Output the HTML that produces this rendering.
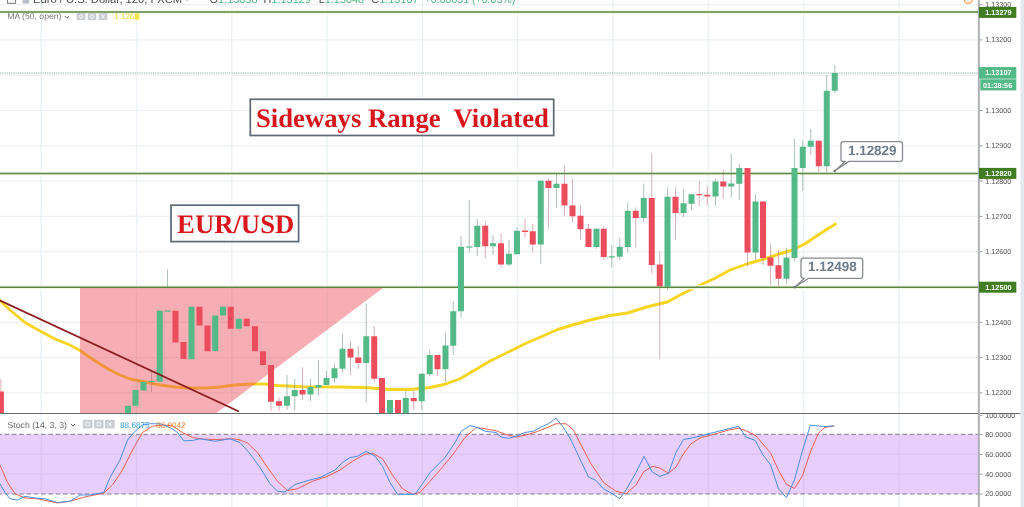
<!DOCTYPE html>
<html lang="en"><head><meta charset="utf-8"><title>EUR/USD chart</title>
<style>html,body{margin:0;padding:0;background:#fff;overflow:hidden}svg{display:block}text{font-family:"Liberation Sans",sans-serif;text-rendering:geometricPrecision}.se{font-family:"Liberation Serif",serif;font-weight:bold;fill:#d9161c}</style></head><body>
<svg width="1024" height="507" viewBox="0 0 1024 507">
<rect width="1024" height="507" fill="#fff"/>
<rect x="1020.5" y="0" width="4" height="507" fill="#e4e8ef"/>
<g stroke="#eaf0f3" stroke-width="1.3">
<line x1="41.2" y1="0" x2="41.2" y2="507"/>
<line x1="136.5" y1="0" x2="136.5" y2="507"/>
<line x1="231.8" y1="0" x2="231.8" y2="507"/>
<line x1="327.1" y1="0" x2="327.1" y2="507"/>
<line x1="422.4" y1="0" x2="422.4" y2="507"/>
<line x1="517.7" y1="0" x2="517.7" y2="507"/>
<line x1="613.0" y1="0" x2="613.0" y2="507"/>
<line x1="708.3" y1="0" x2="708.3" y2="507"/>
<line x1="803.6" y1="0" x2="803.6" y2="507"/>
<line x1="898.9" y1="0" x2="898.9" y2="507"/>
</g><g stroke="#eef0f2" stroke-width="1.2">
<line x1="0" y1="4.6" x2="979" y2="4.6"/>
<line x1="0" y1="39.9" x2="979" y2="39.9"/>
<line x1="0" y1="75.2" x2="979" y2="75.2"/>
<line x1="0" y1="110.5" x2="979" y2="110.5"/>
<line x1="0" y1="145.8" x2="979" y2="145.8"/>
<line x1="0" y1="181.1" x2="979" y2="181.1"/>
<line x1="0" y1="216.4" x2="979" y2="216.4"/>
<line x1="0" y1="251.7" x2="979" y2="251.7"/>
<line x1="0" y1="287.0" x2="979" y2="287.0"/>
<line x1="0" y1="322.3" x2="979" y2="322.3"/>
<line x1="0" y1="357.6" x2="979" y2="357.6"/>
<line x1="0" y1="392.9" x2="979" y2="392.9"/>
<line x1="0" y1="454.2" x2="979" y2="454.2"/>
<line x1="0" y1="474.2" x2="979" y2="474.2"/>
</g>
<rect x="0" y="434.3" width="979" height="59.7" fill="#b868f5" fill-opacity="0.32"/>
<g stroke="#857a8c" stroke-width="1" stroke-dasharray="4.6,2.7" stroke-dashoffset="2.7"><line x1="0" y1="434.3" x2="979" y2="434.3"/><line x1="0" y1="494" x2="979" y2="494"/></g>
<polyline fill="none" stroke="#f6d422" stroke-width="2.9" stroke-linejoin="round" stroke-linecap="round" points="0,300.5 10,310 25,322.5 40,331 55,339 70,345 80,350.5 90,357.5 100,364 110,370 120,375 130,379 140,381 150,383 160,385 175,387 190,388 205,388 220,387 235,385 250,384 265,384 277.5,385.5 302.5,386.75 340,387 365,387.5 390,389.5 410,389.5 430,387.5 445,384.25 460,378.75 475,370 490,361 510,351.25 525,343.75 542.5,336.25 557.5,329.5 572.5,325 590,320 610,315.5 627.5,313 645,307.5 657.5,304.25 667.5,302 680,295 697.5,286.25 715.5,278 730,270 747.5,263.75 762.5,259.5 780,253.75 792.5,250 805,243.75 820,233.75 835.5,224"/>
<g stroke="#f2f8ec" stroke-width="4"><line x1="0" y1="12" x2="979" y2="12"/><line x1="0" y1="173.6" x2="979" y2="173.6"/><line x1="0" y1="287.3" x2="979" y2="287.3"/></g>
<g stroke="#7d9a8c" stroke-opacity="0.62" stroke-width="1">
<line x1="151.5" y1="370" x2="151.5" y2="392"/>
<line x1="167.5" y1="269.6" x2="167.5" y2="287.5"/>
<line x1="287" y1="375" x2="287" y2="410"/>
<line x1="294.75" y1="378.75" x2="294.75" y2="410"/>
<line x1="310.5" y1="378.75" x2="310.5" y2="401"/>
<line x1="318.5" y1="360" x2="318.5" y2="395"/>
<line x1="326.5" y1="371" x2="326.5" y2="385"/>
<line x1="334.5" y1="363.75" x2="334.5" y2="382.5"/>
<line x1="342.5" y1="333.75" x2="342.5" y2="372.5"/>
<line x1="366.25" y1="303.75" x2="366.25" y2="402.5"/>
<line x1="405.75" y1="391" x2="405.75" y2="413"/>
<line x1="421.75" y1="373" x2="421.75" y2="410"/>
<line x1="429.75" y1="349.5" x2="429.75" y2="376"/>
<line x1="445.5" y1="332.5" x2="445.5" y2="382.5"/>
<line x1="453.25" y1="301" x2="453.25" y2="355"/>
<line x1="461" y1="236" x2="461" y2="317.5"/>
<line x1="469.25" y1="200" x2="469.25" y2="252.5"/>
<line x1="477.25" y1="218.75" x2="477.25" y2="256"/>
<line x1="493" y1="235" x2="493" y2="255"/>
<line x1="509" y1="240" x2="509" y2="266"/>
<line x1="517" y1="227.5" x2="517" y2="254"/>
<line x1="540.75" y1="180" x2="540.75" y2="263.75"/>
<line x1="556.5" y1="173.75" x2="556.5" y2="207.5"/>
<line x1="596.5" y1="228" x2="596.5" y2="248.75"/>
<line x1="611.75" y1="245" x2="611.75" y2="267.5"/>
<line x1="619.75" y1="237.5" x2="619.75" y2="260"/>
<line x1="627.75" y1="202.5" x2="627.75" y2="252.5"/>
<line x1="643.75" y1="183.75" x2="643.75" y2="222.5"/>
<line x1="667.5" y1="187.5" x2="667.5" y2="290"/>
<line x1="683.5" y1="188.75" x2="683.5" y2="217"/>
<line x1="691.5" y1="194" x2="691.5" y2="210"/>
<line x1="715.5" y1="178.75" x2="715.5" y2="206.25"/>
<line x1="731.25" y1="153.75" x2="731.25" y2="197.5"/>
<line x1="739.25" y1="163.75" x2="739.25" y2="200"/>
<line x1="755.5" y1="193.75" x2="755.5" y2="260"/>
<line x1="786.5" y1="247.5" x2="786.5" y2="283.75"/>
<line x1="794.5" y1="138.75" x2="794.5" y2="260.5"/>
<line x1="802.75" y1="141" x2="802.75" y2="191"/>
<line x1="810.75" y1="128.75" x2="810.75" y2="155"/>
<line x1="826.75" y1="75" x2="826.75" y2="172.5"/>
<line x1="834.75" y1="65" x2="834.75" y2="92.5"/>
</g>
<g stroke="#c27f8a" stroke-opacity="0.62" stroke-width="1">
<line x1="0.9" y1="379" x2="0.9" y2="413"/>
<line x1="271" y1="365" x2="271" y2="411"/>
<line x1="279" y1="397.5" x2="279" y2="411"/>
<line x1="302.5" y1="367.5" x2="302.5" y2="400"/>
<line x1="350.5" y1="341" x2="350.5" y2="375"/>
<line x1="358.25" y1="346" x2="358.25" y2="369"/>
<line x1="374.25" y1="326" x2="374.25" y2="382.5"/>
<line x1="413.75" y1="391" x2="413.75" y2="410"/>
<line x1="437.5" y1="355" x2="437.5" y2="376"/>
<line x1="485.25" y1="221" x2="485.25" y2="258.75"/>
<line x1="501" y1="233.75" x2="501" y2="267.5"/>
<line x1="525" y1="218.75" x2="525" y2="237.5"/>
<line x1="532.75" y1="223.75" x2="532.75" y2="252.5"/>
<line x1="548.5" y1="178.75" x2="548.5" y2="228.75"/>
<line x1="564.5" y1="166" x2="564.5" y2="216"/>
<line x1="572.5" y1="178.75" x2="572.5" y2="222.5"/>
<line x1="580.5" y1="205" x2="580.5" y2="240"/>
<line x1="588.5" y1="223.75" x2="588.5" y2="247"/>
<line x1="603.75" y1="226" x2="603.75" y2="260"/>
<line x1="635.75" y1="207.5" x2="635.75" y2="247.5"/>
<line x1="651.75" y1="153" x2="651.75" y2="273.75"/>
<line x1="659.75" y1="251.25" x2="659.75" y2="358.75"/>
<line x1="675.5" y1="187.5" x2="675.5" y2="240"/>
<line x1="699.25" y1="181.25" x2="699.25" y2="206.25"/>
<line x1="707.25" y1="186.25" x2="707.25" y2="205"/>
<line x1="723.25" y1="170" x2="723.25" y2="198.75"/>
<line x1="747.5" y1="168" x2="747.5" y2="266.25"/>
<line x1="763" y1="201" x2="763" y2="265"/>
<line x1="770.5" y1="243.75" x2="770.5" y2="285"/>
<line x1="778.5" y1="250" x2="778.5" y2="286.25"/>
<line x1="818.75" y1="140" x2="818.75" y2="172.5"/>
</g>
<polygon points="80,288 383,288 216.5,413 80,413" fill="#eb4d5c" fill-opacity="0.46"/>
<line x1="0" y1="73" x2="979" y2="73" stroke="#aecbc4" stroke-width="1.5" stroke-dasharray="1,0.8"/>
<g stroke="#5a863e" stroke-width="1.5"><line x1="0" y1="12" x2="979" y2="12"/><line x1="0" y1="173.6" x2="979" y2="173.6"/><line x1="0" y1="287.3" x2="979" y2="287.3"/></g>
<g>
<rect x="-2.1" y="391.5" width="6" height="21.5" fill="#eb4d5c"/>
<rect x="125" y="405.75" width="6" height="7.25" fill="#53b987"/>
<rect x="132.5" y="390" width="6" height="15.75" fill="#53b987"/>
<rect x="140.5" y="382" width="6" height="8.5" fill="#53b987"/>
<rect x="148.5" y="381" width="6" height="1" fill="#53b987"/>
<rect x="156.75" y="310.75" width="6" height="71" fill="#53b987"/>
<rect x="164.5" y="310.5" width="6" height="1.2" fill="#53b987"/>
<rect x="172.5" y="310.75" width="6" height="31.75" fill="#eb4d5c"/>
<rect x="180.5" y="342" width="6" height="17" fill="#eb4d5c"/>
<rect x="188.5" y="306.75" width="6" height="52.5" fill="#53b987"/>
<rect x="196.5" y="306.75" width="6" height="18.75" fill="#eb4d5c"/>
<rect x="204.5" y="325.5" width="6" height="25.75" fill="#eb4d5c"/>
<rect x="212.25" y="315.5" width="6" height="35.5" fill="#53b987"/>
<rect x="220" y="306.75" width="6" height="8.75" fill="#53b987"/>
<rect x="227.75" y="306.75" width="6" height="22" fill="#eb4d5c"/>
<rect x="235.75" y="318.75" width="6" height="10" fill="#53b987"/>
<rect x="243.75" y="318.75" width="6" height="7.5" fill="#eb4d5c"/>
<rect x="252" y="326.25" width="6" height="25" fill="#eb4d5c"/>
<rect x="260" y="351.25" width="6" height="13.75" fill="#eb4d5c"/>
<rect x="268" y="365" width="6" height="36.75" fill="#eb4d5c"/>
<rect x="276" y="401.25" width="6" height="4.5" fill="#eb4d5c"/>
<rect x="284" y="396.25" width="6" height="9.5" fill="#53b987"/>
<rect x="291.75" y="390" width="6" height="6.25" fill="#53b987"/>
<rect x="299.5" y="390" width="6" height="4.5" fill="#eb4d5c"/>
<rect x="307.5" y="387" width="6" height="7.5" fill="#53b987"/>
<rect x="315.5" y="385" width="6" height="2.5" fill="#53b987"/>
<rect x="323.5" y="378" width="6" height="7" fill="#53b987"/>
<rect x="331.5" y="368.25" width="6" height="10" fill="#53b987"/>
<rect x="339.5" y="348.75" width="6" height="20" fill="#53b987"/>
<rect x="347.5" y="348.75" width="6" height="8.75" fill="#eb4d5c"/>
<rect x="355.25" y="357.5" width="6" height="5.5" fill="#eb4d5c"/>
<rect x="363.25" y="336.25" width="6" height="26.75" fill="#53b987"/>
<rect x="371.25" y="336.25" width="6" height="42.5" fill="#eb4d5c"/>
<rect x="379" y="378" width="6" height="35" fill="#eb4d5c"/>
<rect x="387" y="400" width="6" height="13" fill="#53b987"/>
<rect x="395" y="400" width="6" height="13" fill="#eb4d5c"/>
<rect x="402.75" y="398" width="6" height="15" fill="#53b987"/>
<rect x="410.75" y="398" width="6" height="3.25" fill="#eb4d5c"/>
<rect x="418.75" y="373.75" width="6" height="27.5" fill="#53b987"/>
<rect x="426.75" y="355" width="6" height="19.25" fill="#53b987"/>
<rect x="434.5" y="355" width="6" height="14.25" fill="#eb4d5c"/>
<rect x="442.5" y="345.5" width="6" height="23.75" fill="#53b987"/>
<rect x="450.25" y="311.25" width="6" height="34.5" fill="#53b987"/>
<rect x="458" y="246.75" width="6" height="64.5" fill="#53b987"/>
<rect x="466.25" y="246.4" width="6" height="1.2" fill="#53b987"/>
<rect x="474.25" y="225.75" width="6" height="21.25" fill="#53b987"/>
<rect x="482.25" y="225.75" width="6" height="20.5" fill="#eb4d5c"/>
<rect x="490" y="243.25" width="6" height="3" fill="#53b987"/>
<rect x="498" y="243.25" width="6" height="21.25" fill="#eb4d5c"/>
<rect x="506" y="253.75" width="6" height="10.75" fill="#53b987"/>
<rect x="514" y="230.75" width="6" height="23.5" fill="#53b987"/>
<rect x="522" y="230.5" width="6" height="1.5" fill="#eb4d5c"/>
<rect x="529.75" y="231.25" width="6" height="13.25" fill="#eb4d5c"/>
<rect x="537.75" y="180.75" width="6" height="63.75" fill="#53b987"/>
<rect x="545.5" y="180.75" width="6" height="7.25" fill="#eb4d5c"/>
<rect x="553.5" y="183.75" width="6" height="4.25" fill="#53b987"/>
<rect x="561.5" y="183.75" width="6" height="21.75" fill="#eb4d5c"/>
<rect x="569.5" y="205.5" width="6" height="10.75" fill="#eb4d5c"/>
<rect x="577.5" y="215.75" width="6" height="13.5" fill="#eb4d5c"/>
<rect x="585.5" y="228.75" width="6" height="18.25" fill="#eb4d5c"/>
<rect x="593.5" y="228.75" width="6" height="18.25" fill="#53b987"/>
<rect x="600.75" y="228.75" width="6" height="28.25" fill="#eb4d5c"/>
<rect x="608.75" y="256.25" width="6" height="1.25" fill="#53b987"/>
<rect x="616.75" y="246.75" width="6" height="10" fill="#53b987"/>
<rect x="624.75" y="210.75" width="6" height="36.25" fill="#53b987"/>
<rect x="632.75" y="210.75" width="6" height="7.25" fill="#eb4d5c"/>
<rect x="640.75" y="198" width="6" height="20" fill="#53b987"/>
<rect x="648.75" y="198" width="6" height="67" fill="#eb4d5c"/>
<rect x="656.75" y="264.5" width="6" height="21.75" fill="#eb4d5c"/>
<rect x="664.5" y="196.75" width="6" height="90" fill="#53b987"/>
<rect x="672.5" y="196.75" width="6" height="16.25" fill="#eb4d5c"/>
<rect x="680.5" y="203.25" width="6" height="9.75" fill="#53b987"/>
<rect x="688.5" y="194.25" width="6" height="9.5" fill="#53b987"/>
<rect x="696.25" y="194" width="6" height="1.25" fill="#eb4d5c"/>
<rect x="704.25" y="194.75" width="6" height="1.75" fill="#eb4d5c"/>
<rect x="712.5" y="181.5" width="6" height="15" fill="#53b987"/>
<rect x="720.25" y="181.5" width="6" height="5" fill="#eb4d5c"/>
<rect x="728.25" y="183.5" width="6" height="3" fill="#53b987"/>
<rect x="736.25" y="168" width="6" height="15.75" fill="#53b987"/>
<rect x="744.5" y="168" width="6" height="84.5" fill="#eb4d5c"/>
<rect x="752.5" y="201.5" width="6" height="51" fill="#53b987"/>
<rect x="760" y="201.5" width="6" height="56.5" fill="#eb4d5c"/>
<rect x="767.5" y="257.5" width="6" height="8.25" fill="#eb4d5c"/>
<rect x="775.5" y="265.25" width="6" height="13.5" fill="#eb4d5c"/>
<rect x="783.5" y="257.5" width="6" height="21.25" fill="#53b987"/>
<rect x="791.5" y="168" width="6" height="90" fill="#53b987"/>
<rect x="799.75" y="146.75" width="6" height="21.25" fill="#53b987"/>
<rect x="807.75" y="140.75" width="6" height="6" fill="#53b987"/>
<rect x="815.75" y="140.75" width="6" height="25.5" fill="#eb4d5c"/>
<rect x="823.75" y="90.75" width="6" height="75.5" fill="#53b987"/>
<rect x="831.75" y="73" width="6" height="17.75" fill="#53b987"/>
</g>
<line x1="-4" y1="298.6" x2="239" y2="411.5" stroke="#8c1c1f" stroke-width="1.9"/>
<rect x="0" y="413" width="1020.5" height="1" fill="#6c6c6c"/>
<polyline fill="none" stroke="#e8604c" stroke-width="1" stroke-linejoin="round" points="0,465 7.5,482.5 15,493.75 25,498 37.5,498.75 57.5,503 70,501.25 82.5,497.5 103.75,493 112.5,485 122.5,470 132.5,450 142.5,432.5 152.5,426.25 162.5,425 172.5,425.75 182.5,432.5 192.5,437.5 205,439.25 217.5,439.5 232.5,438.75 240,440 247.5,443 257.5,452.5 267.5,467.5 277.5,481.25 287.5,490.5 297.5,488.75 312.5,481.25 327.5,476.25 340,470 352.5,461.25 365,454.25 372.5,453.25 382.5,458.75 392.5,475 402.5,488.75 412.5,494.25 420,492.5 430,481.25 440,470 452.5,455 465,437.5 476.25,427.5 485,428.75 496,430.75 506,434.5 516,437 526,435 536,432 546,428 556,423.75 566,423.75 573.5,430 581,445 591,463.75 603.5,482.5 616,491.25 626,493.75 636,485 643.5,472 652.25,466.25 659.75,468 668.5,473.25 676,467 683.5,453.75 691,443.75 701,437.5 713.5,434.5 728.5,430 738.5,428.25 746,430.75 752,433.7 756,435.9 770.6,453.1 778.6,470.4 786.5,484.5 794.5,488.4 802.5,475.7 810.4,451.8 818.4,433.2 825,427.4 834.3,425.8"/>
<polyline fill="none" stroke="#4a8fe0" stroke-width="1" stroke-linejoin="round" points="0,483.75 5,492.5 10,498.75 17.5,500 25,496.25 35,498 45,498.75 57.5,502.5 70,501.25 80,495 90,495 103.75,492.5 110,477.5 120,460 127.5,440 135,431.25 142.5,425 150,423.75 160,423.75 170,427.5 177.5,432.5 183.75,440.75 192.5,440.5 200,438.75 215,441.25 230,438.75 240,442.5 250,453.75 260,467.5 270,483.75 277.5,491.25 285,492 295,484.5 310,480 320,477.5 335,470 342.5,462.5 350,457.5 357.5,456.25 366.25,451.25 375,456.25 382.5,466.25 390,482.5 397.5,494.25 415,494.25 422.5,483.75 430,472.5 445,457.5 455,442.5 461.25,431.25 470,425.5 477.5,427.5 485,431.25 496,432.5 501,437 508.5,438.25 516,436.25 524.75,432.5 533.5,431.25 541,427 548.5,423.75 556,418.25 563.5,427.5 571,440 581,461.25 588.5,477 596,480.5 603.5,488.75 612.25,493.75 619.75,498.75 626,490 636,472.5 644,456.25 652.25,472 659.75,476.25 668.5,473.25 676,452.5 683.5,439.5 691,438.25 701,435.75 713.5,432.5 728.5,428.75 738.5,426.25 746,437 752,439.3 755.2,440.4 762.6,454.4 770.6,465 778.6,489 786.5,497.7 794.5,479.7 802.5,450.5 810.4,425.2 823.7,426.6 834.3,425.8"/>
<rect x="977.9" y="0" width="1.9" height="507" fill="#aaadb3"/>
<g fill="#555" font-size="7.2">
<rect x="979.8" y="4.1" width="2.6" height="1" fill="#9aa0a8"/><text x="985.3" y="7.0">1.13300</text>
<rect x="979.8" y="39.4" width="2.6" height="1" fill="#9aa0a8"/><text x="985.3" y="42.3">1.13200</text>
<rect x="979.8" y="110.0" width="2.6" height="1" fill="#9aa0a8"/><text x="985.3" y="112.9">1.13000</text>
<rect x="979.8" y="145.3" width="2.6" height="1" fill="#9aa0a8"/><text x="985.3" y="148.2">1.12900</text>
<rect x="979.8" y="180.6" width="2.6" height="1" fill="#9aa0a8"/><text x="985.3" y="183.5">1.12800</text>
<rect x="979.8" y="215.9" width="2.6" height="1" fill="#9aa0a8"/><text x="985.3" y="218.8">1.12700</text>
<rect x="979.8" y="251.2" width="2.6" height="1" fill="#9aa0a8"/><text x="985.3" y="254.1">1.12600</text>
<rect x="979.8" y="321.8" width="2.6" height="1" fill="#9aa0a8"/><text x="985.3" y="324.7">1.12400</text>
<rect x="979.8" y="357.1" width="2.6" height="1" fill="#9aa0a8"/><text x="985.3" y="360.0">1.12300</text>
<rect x="979.8" y="392.4" width="2.6" height="1" fill="#9aa0a8"/><text x="985.3" y="395.3">1.12200</text>
<rect x="979.8" y="415.1" width="2.6" height="1" fill="#9aa0a8"/><text x="985.3" y="418.0">100.0000</text>
<rect x="979.8" y="434.0" width="2.6" height="1" fill="#9aa0a8"/><text x="985.3" y="436.9">80.0000</text>
<rect x="979.8" y="454.1" width="2.6" height="1" fill="#9aa0a8"/><text x="985.3" y="457.0">60.0000</text>
<rect x="979.8" y="473.7" width="2.6" height="1" fill="#9aa0a8"/><text x="985.3" y="476.6">40.0000</text>
<rect x="979.8" y="493.5" width="2.6" height="1" fill="#9aa0a8"/><text x="985.3" y="496.4">20.0000</text>
</g>
<rect x="979" y="6.9" width="37.299999999999955" height="11" fill="#3f7d20"/><text x="985.2" y="15.0" font-size="7.3" font-weight="bold" fill="#fff">1.13279</text>
<rect x="979" y="167.9" width="37.299999999999955" height="11" fill="#3f7d20"/><text x="985.2" y="176.0" font-size="7.3" font-weight="bold" fill="#fff">1.12820</text>
<rect x="979" y="281.7" width="37.299999999999955" height="11" fill="#3f7d20"/><text x="985.2" y="289.8" font-size="7.3" font-weight="bold" fill="#fff">1.12500</text>
<rect x="979" y="78" width="37.3" height="2" fill="#a9dcc4"/>
<rect x="979" y="67.1" width="37.299999999999955" height="11.4" fill="#53b987"/><text x="985.2" y="75.4" font-size="7.3" font-weight="bold" fill="#fff">1.13107</text>
<rect x="980.3" y="79.6" width="36" height="10.8" fill="#53b987"/><text x="983" y="87.6" font-size="7.3" font-weight="bold" fill="#fff">01:38:56</text>
<circle cx="968.3" cy="-0.5" r="4" fill="#fdebd8" stroke="#f0a868" stroke-width="1.2"/>
<g font-size="10.9" fill="#4a4a4a">
<rect x="7.6" y="-5" width="8" height="8.3" fill="#fff" stroke="#777" stroke-width="1"/>
<rect x="22.6" y="-5" width="6.6" height="8.5" fill="#b9bdc4"/>
<text x="33" y="3.1" font-size="11.3" textLength="156" lengthAdjust="spacingAndGlyphs">Euro / U.S. Dollar, 120, FXCM ·</text>
<text x="209.6" y="3.1">O<tspan fill="#53b987">1.13038</tspan></text>
<text x="263.6" y="3.1">H<tspan fill="#53b987">1.13129</tspan></text>
<text x="318.7" y="3.1">L<tspan fill="#53b987">1.13048</tspan></text>
<text x="371.3" y="3.1">C<tspan fill="#53b987">1.13107</tspan></text>
<text x="424.7" y="3.1" fill="#53b987" textLength="90.5" lengthAdjust="spacingAndGlyphs">+0.00031 (+0.03%)</text>
</g>
<text x="7.2" y="19.3" font-size="8.4" fill="#777" textLength="54.3" lengthAdjust="spacingAndGlyphs">MA (50, open)</text>
<path d="M64.8 16 l2.1 2.1 l2.1 -2.1" fill="none" stroke="#666" stroke-width="1"/>
<rect x="76.8" y="12.9" width="8.6" height="7.2" fill="#c9ccd1"/>
<rect x="87.7" y="12.9" width="8.6" height="7.2" fill="#c9ccd1"/>
<rect x="98.6" y="12.9" width="8.6" height="7.2" fill="#c9ccd1"/>
<circle cx="81.1" cy="16.5" r="1.7" fill="none" stroke="#fff" stroke-width="0.9"/><circle cx="92" cy="16.5" r="1.7" fill="none" stroke="#fff" stroke-width="0.9"/><path d="M101.2 14.6l3.6 3.8m0-3.8l-3.6 3.8" stroke="#fff" stroke-width="1" fill="none"/>
<rect x="135" y="13.5" width="4.6" height="6.6" fill="#faf070"/><text x="114.3" y="19.4" font-size="8" fill="#e9d52a">1.1268</text>
<text x="7.5" y="427.7" font-size="8.6" fill="#666" textLength="59.5" lengthAdjust="spacingAndGlyphs">Stoch (14, 3, 3)</text>
<path d="M70.9 423.9 l2.1 2.1 l2.1 -2.1" fill="none" stroke="#555" stroke-width="1"/>
<rect x="82.8" y="419.8" width="9.6" height="8.6" fill="#c9ccd1"/>
<rect x="93.9" y="419.8" width="9.6" height="8.6" fill="#c9ccd1"/>
<rect x="105.0" y="419.8" width="9.6" height="8.6" fill="#c9ccd1"/>
<circle cx="87.6" cy="424.1" r="2" fill="none" stroke="#fff" stroke-width="0.9"/><circle cx="98.7" cy="424.1" r="2" fill="none" stroke="#fff" stroke-width="0.9"/><path d="M107.8 422.1l4 4m0-4l-4 4" stroke="#fff" stroke-width="1" fill="none"/>
<text x="120" y="427.6" font-size="8.2" fill="#3a9bd4">88.6875</text><text x="156" y="427.6" font-size="8.2" fill="#e8863c">88.0042</text>
<rect x="250.3" y="99.3" width="303.4" height="36.2" fill="#fff" stroke="#5c6873" stroke-width="1.7"/>
<text class="se" x="256" y="127.2" font-size="26.7" xml:space="preserve">Sideways Range  Violated</text>
<rect x="171" y="205.2" width="127.6" height="36.4" fill="#fff" stroke="#5c6873" stroke-width="1.7"/>
<text class="se" x="177.1" y="232.8" font-size="26.7">EUR/USD</text>
<path d="M843.5,141.6 H900.0 Q902.5,141.6 902.5,144.1 V158.9 Q902.5,161.4 900.0,161.4 H848.9 L834.7,171 L845.2,161.4 H843.5 Q841,161.4 841,158.9 V144.1 Q841,141.6 843.5,141.6Z" fill="#fff" stroke="#878b91" stroke-width="1.3" stroke-linejoin="round"/>
<circle cx="834.7" cy="171" r="1.2" fill="#6f747a"/>
<text x="872.25" y="154.6" text-anchor="middle" font-size="13.45" font-weight="bold" fill="#6d7b8a">1.12829</text>
<path d="M803.5,258.2 H860.2 Q862.7,258.2 862.7,260.7 V275.8 Q862.7,278.3 860.2,278.3 H808.6 L794.6,287.3 L804.5,278.3 H803.5 Q801,278.3 801,275.8 V260.7 Q801,258.2 803.5,258.2Z" fill="#fff" stroke="#878b91" stroke-width="1.3" stroke-linejoin="round"/>
<circle cx="794.6" cy="287.3" r="1.2" fill="#6f747a"/>
<text x="832.35" y="271.35" text-anchor="middle" font-size="13.45" font-weight="bold" fill="#6d7b8a">1.12498</text>
</svg></body></html>
